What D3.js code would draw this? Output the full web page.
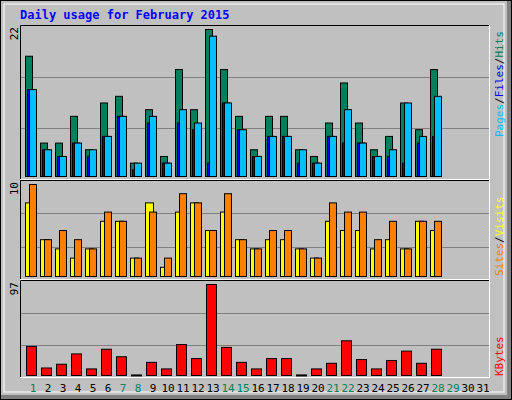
<!DOCTYPE html>
<html><head><meta charset="utf-8">
<script src="https://cdn.jsdelivr.net/npm/d3@7"></script>
<style>body{margin:0;background:#fff}svg{display:block}</style>
</head><body>
<script>
const days = d3.range(1, 32);
const weekend = [1, 7, 8, 14, 15, 21, 22, 28, 29];
const hits   = [18,5,5,9,4,11,12,2,10,3,16,10,22,16,9,4,9,9,4,3,8,14,8,4,6,11,7,16];
const files  = [13,4,3,5,4,6,9,2,9,2,10,8,21,11,7,3,6,6,4,2,6,10,5,3,4,11,6,12];
const pages  = [13,4,3,5,3,6,9,1,8,2,8,7,2,11,7,3,6,6,2,2,6,5,5,3,3,2,5,6];
const sites  = [8,4,3,2,3,6,6,2,8,1,7,8,5,7,4,3,4,4,3,2,6,5,5,3,4,3,6,5];
const visits = [10,4,5,4,3,7,6,2,7,2,9,8,5,9,4,3,5,5,3,2,8,7,7,4,6,3,6,6];
const kbytes = [31,8,12,23,7,28,20,0.6,14,7,33,18,97,30,14,7,18,18,0.6,7,13,37,17,7,16,26,13,28];
const maxLabels = ["22", "10", "97"];

const W = 512, H = 400;
const svg = d3.select("body").append("svg").attr("width", W).attr("height", H);
const mono = "DejaVu Sans Mono";

// frame
svg.append("rect").attr("x", 0).attr("y", 0).attr("width", W).attr("height", H).attr("fill", "#000");
svg.append("rect").attr("x", 1).attr("y", 1).attr("width", W - 2).attr("height", H - 2).attr("fill", "#808080");
svg.append("rect").attr("x", 1).attr("y", 1).attr("width", W - 6).attr("height", H - 6).attr("fill", "#c0c0c0");
svg.append("rect").attr("x", 4).attr("y", 4).attr("width", W - 12).attr("height", H - 12).attr("fill", "none").attr("stroke", "#fff");

svg.append("text").attr("x", 20).attr("y", 19).text("Daily usage for February 2015")
  .attr("font-family", mono).attr("font-weight", "bold").attr("font-size", 12).attr("fill", "#0000ff");

const x = d3.scaleLinear().domain([1, 31]).range([25, 475]);
const left = 20, right = 490;

const panels = [
  { top: 25, bottom: 180, max: 22 },
  { top: 180, bottom: 280, max: 10 },
  { top: 280, bottom: 378, max: 97 }
];

panels.forEach((p, i) => {
  svg.append("rect").attr("x", left).attr("y", p.top).attr("width", right - left).attr("height", p.bottom - p.top)
    .attr("fill", "#c0c0c0");
  const h = p.bottom - p.top;
  [1, 2].forEach(k => {
    const gy = p.top + Math.round(h * k / 3) + 0.5;
    svg.append("line").attr("x1", left).attr("x2", right).attr("y1", gy).attr("y2", gy).attr("stroke", "#808080");
  });
  svg.append("path").attr("d", `M${left + .5},${p.bottom}V${p.top + .5}H${right}`).attr("fill", "none").attr("stroke", "#000");
  svg.append("path").attr("d", `M${left},${p.bottom - .5}H${right - .5}V${p.top}`).attr("fill", "none").attr("stroke", "#fff");
  svg.append("text").attr("transform", `translate(18,${p.top + 2}) rotate(-90)`).attr("text-anchor", "end")
    .attr("font-family", mono).attr("font-size", 11).text(maxLabels[i]);
});

const y1 = d3.scaleLinear().domain([0, 22]).range([176.5, 29.5]);
const y2 = d3.scaleLinear().domain([0, 10]).range([276.5, 184.5]);
const y3 = d3.scaleLinear().domain([0, 97]).range([375.5, 284.5]);

function bars(data, y, dx, w, fill) {
  svg.append("g").selectAll("rect").data(data).join("rect")
    .attr("x", (d, i) => x(i + 1) + dx + .5)
    .attr("y", d => y(d))
    .attr("width", w)
    .attr("height", d => Math.max(1, y(0) - y(d)))
    .attr("fill", fill).attr("stroke", "#000");
}
bars(hits, y1, 0, 7, "#00805c");
bars(pages, y1, 2, 7, "#0000ff");
bars(files, y1, 4, 7, "#00c0ff");
bars(sites, y2, 0, 8, "#ffff00");
bars(visits, y2, 4, 7, "#ff8000");
bars(kbytes, y3, 1, 10, "#ff0000");

svg.append("g").selectAll("text").data(days).join("text")
  .attr("x", d => x(d) + 8).attr("y", 392).attr("text-anchor", "middle")
  .attr("font-family", mono).attr("font-size", 11)
  .attr("fill", d => weekend.includes(d) ? "#00805c" : "#000").text(d => d);

function sideLabel(yStart, parts) {
  const t = svg.append("text").attr("transform", `translate(503,${yStart}) rotate(-90)`)
    .attr("font-family", mono).attr("font-size", 11);
  parts.forEach(([s, c]) => t.append("tspan").attr("fill", c).text(s));
}
sideLabel(137, [["Pages", "#00c0ff"], ["/", "#000"], ["Files", "#0000ff"], ["/", "#000"], ["Hits", "#00805c"]]);
sideLabel(276, [["Sites", "#ff8000"], ["/", "#000"], ["Visits", "#ffff00"]]);
sideLabel(376, [["KBytes", "#ff0000"]]);
</script>
</body></html>
